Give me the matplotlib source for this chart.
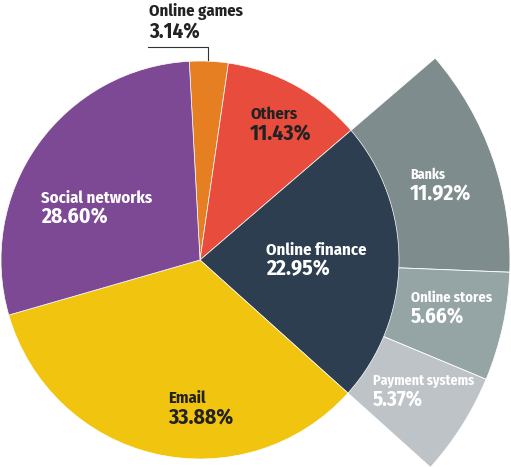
import matplotlib.pyplot as plt

# main pie
labels = ['Online games', 'Others', 'Online finance', 'Email', 'Social networks']
values = [3.14, 11.43, 22.95, 33.88, 28.60]
colors = ['#E67E22', '#E74C3C', '#2C3E50', '#F1C40F', '#7D4994']

# breakdown of online finance
sub_labels = ['Banks', 'Online stores', 'Payment systems']
sub_values = [11.92, 5.66, 5.37]
sub_colors = ['#7F8C8D', '#95A5A6', '#BDC3C7']

W, H = 511, 467
cx, cy = 200, H - 260
start = 93.1

plt.rcParams['font.family'] = ['Fira Sans Condensed', 'DejaVu Sans']

fig = plt.figure(figsize=(W / 100, H / 100), dpi=100)
ax = fig.add_axes([0, 0, 1, 1])

# outer ring pieces for the finance slice
sub_start = start - (values[0] + values[1]) * 3.6
ax.pie(sub_values + [100 - sum(sub_values)], colors=sub_colors + ['none'],
       startangle=sub_start, counterclock=False, center=(cx, cy), radius=310,
       wedgeprops=dict(edgecolor='white', linewidth=0.6), frame=True)
ax.patches[-1].set_edgecolor('none')

ax.pie(values, colors=colors, startangle=start, counterclock=False,
       center=(cx, cy), radius=199,
       wedgeprops=dict(edgecolor='white', linewidth=0.5), frame=True)

# x, name baseline, pct baseline (pixels from top-left), colour, sizes
label_pos = {
    'Online games': (149, 16, 38, '#222222', 12, 15),
    'Others': (250, 119, 140, '#222222', 12, 15.5),
    'Online finance': (266, 255, 275, 'white', 12, 15.5),
    'Email': (168, 403, 424, '#222222', 12, 15.5),
    'Social networks': (41, 203, 223, 'white', 12, 15.5),
    'Banks': (410, 179, 200, 'white', 10, 15.5),
    'Online stores': (411, 302, 323, 'white', 10.5, 15),
    'Payment systems': (373, 385, 406, 'white', 10, 15),
}
all_vals = dict(zip(labels + sub_labels, values + sub_values))
for name, (x, y1, y2, c, s1, s2) in label_pos.items():
    ax.text(x, H - y1, name, color=c, fontsize=s1, fontweight='bold',
            va='baseline', ha='left')
    ax.text(x, H - y2, f'{all_vals[name]:.2f}%', color=c, fontsize=s2,
            fontweight='bold', va='baseline', ha='left')

# leader line for online games
ax.plot([148, 208, 208], [H - 47, H - 47, H - 60], color='#333333', lw=0.8)

ax.set_xlim(0, W)
ax.set_ylim(0, H)
ax.set_aspect('equal')
ax.axis('off')

fig.savefig('out.png', dpi=100)
